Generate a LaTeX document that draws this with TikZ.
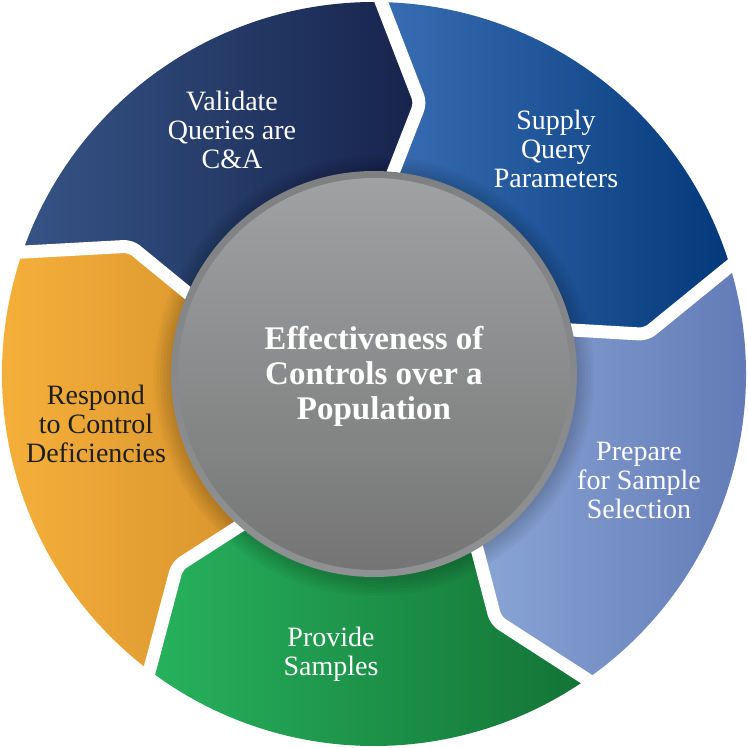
\documentclass[tikz,border=0pt]{standalone}
\usepackage{fontspec}
\setmainfont{Liberation Serif}
\newfontfamily\serifx{Liberation Serif}
\definecolor{navyL}{HTML}{365486}
\definecolor{navyR}{HTML}{16234C}
\definecolor{blueL}{HTML}{3A6EB4}
\definecolor{blueR}{HTML}{03397A}
\definecolor{lblueL}{HTML}{8AA6D6}
\definecolor{lblueR}{HTML}{5F76B3}
\definecolor{greenL}{HTML}{27B25D}
\definecolor{greenR}{HTML}{137336}
\definecolor{orangeL}{HTML}{F8B33C}
\definecolor{orangeR}{HTML}{D8932D}
\definecolor{rimTop}{HTML}{7E8082}
\definecolor{rimBot}{HTML}{8F9193}
\definecolor{discTop}{HTML}{A0A1A3}
\definecolor{discBot}{HTML}{747574}
\definecolor{darktext}{HTML}{1E1E1E}
\tikzset{
  seglabel/.style={align=center, font=\serifx\fontsize{28}{29}\selectfont, inner sep=0pt},
  titlelabel/.style={align=center, font=\serifx\bfseries\fontsize{33}{35}\selectfont, text=white, inner sep=0pt},
  gapline/.style={white, line width=13pt, rounded corners=7pt, line join=round},
}
\newcommand{\segpath}[2]{%
  (#1:372pt) arc[start angle=#1, end angle=#2, radius=372pt]
  -- ({#2-8.7}:275pt) -- ({#2-2.9}:185pt)
  arc[start angle={#2-2.9}, end angle={#1-2.9}, radius=185pt]
  -- ({#1-8.7}:275pt) -- cycle}
\newcommand{\gappath}[1]{%
  ({#1+0.6}:384pt) -- ({#1-8.7}:275pt) -- ({#1-2.9}:185pt)}
\begin{document}
\begin{tikzpicture}[x=1pt,y=1pt]
\useasboundingbox (-374,-374) rectangle (374,374);
% segments
\shade[left color=navyL, right color=navyR] \segpath{161}{89};
\shade[left color=blueL, right color=blueR] \segpath{89}{17};
\shade[left color=lblueL, right color=lblueR] \segpath{17}{-55};
\shade[left color=greenL, right color=greenR] \segpath{-55}{-127};
\shade[left color=orangeL, right color=orangeR] \segpath{-127}{-199};
% soft shadow of the disc
\foreach \r in {205,208,...,220} {\fill[black, opacity=0.03] (0,-2) circle[radius=\r pt];}
% white gaps
\foreach \t in {89,17,-55,-127,161} {\draw[gapline] \gappath{\t};}
% central disc
\shade[top color=rimTop, bottom color=rimBot] (0,0) circle[radius=203pt];
\shade[top color=discTop, bottom color=discBot] (0,0) circle[radius=196pt];
% labels
\node[seglabel, text=white] (validate) at (-142,244) {Validate\\Queries are\\C\&A};
\node[seglabel, text=white] (supply) at (182,225) {Supply\\Query\\Parameters};
\node[seglabel, text=white] (prepare) at (265,-106) {Prepare\\for Sample\\Selection};
\node[seglabel, text=white] (provide) at (-43,-280) {Provide\\Samples};
\node[seglabel, text=darktext] (respond) at (-278,-50) {Respond\\to Control\\Deficiencies};
\node[titlelabel] (title) at (0,-2) {Effectiveness of\\Controls over a\\Population};
\end{tikzpicture}
\end{document}
